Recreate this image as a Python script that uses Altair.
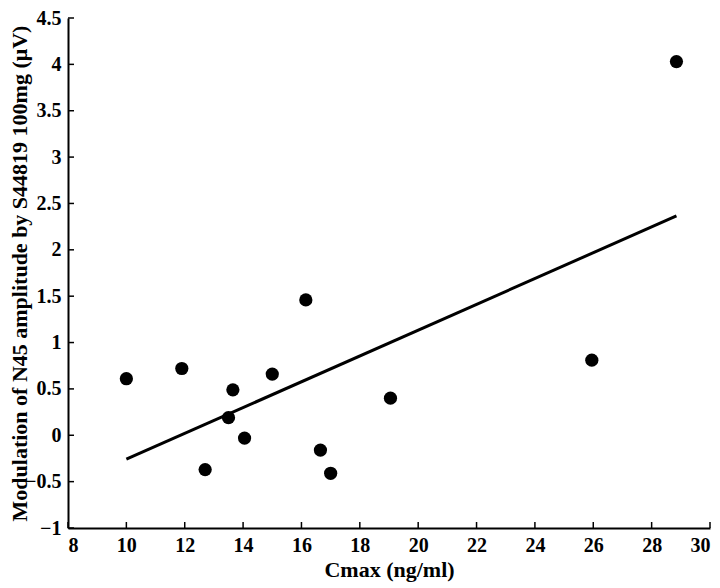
import altair as alt
import pandas as pd

cmax = [10.0, 11.9, 12.7, 13.5, 13.65, 14.05, 15.0, 16.15, 16.65, 17.0, 19.05, 25.95, 28.85]
modulation = [0.61, 0.72, -0.37, 0.19, 0.49, -0.03, 0.66, 1.46, -0.16, -0.41, 0.40, 0.81, 4.03]
x_ticks = list(range(8, 31, 2))
y_ticks = [-1, -0.5, 0, 0.5, 1, 1.5, 2, 2.5, 3, 3.5, 4, 4.5]

df = pd.DataFrame({"cmax": cmax, "mod": modulation})
xt = pd.DataFrame({"cmax": x_ticks})
yt = pd.DataFrame({"mod": y_ticks})

FONT = "Liberation Serif"
W, H = 642, 510

xs = alt.Scale(domain=[8, 30], nice=False, zero=False)
ys = alt.Scale(domain=[-1, 4.5], nice=False, zero=False)

x = alt.X("cmax:Q", title="Cmax (ng/ml)", scale=xs,
          axis=alt.Axis(values=x_ticks, grid=False, ticks=False, tickSize=0,
                        labelFont=FONT, titleFont=FONT,
                        labelFontWeight=700, titleFontWeight=700,
                        labelPadding=7, titlePadding=4))
y = alt.Y("mod:Q", title="Modulation of N45 amplitude by S44819 100mg (μV)", scale=ys,
          axis=alt.Axis(values=y_ticks, grid=False, format="~g", ticks=False, tickSize=0,
                        labelFont=FONT, titleFont=FONT,
                        labelFontWeight=700, titleFontWeight=700,
                        labelPadding=7, titlePadding=-7))

xtick = alt.Chart(xt).mark_rule(color="black", strokeWidth=1.5).encode(
    x=alt.X("cmax:Q", scale=xs), y=alt.value(H), y2=alt.value(H - 6))
ytick = alt.Chart(yt).mark_rule(color="black", strokeWidth=1.5).encode(
    y=alt.Y("mod:Q", scale=ys), x=alt.value(0), x2=alt.value(6))

pts = alt.Chart(df).mark_circle(size=175, color="black", opacity=1).encode(x=x, y=y)
line = alt.Chart(df).transform_regression("cmax", "mod").mark_line(
    color="black", strokeWidth=3).encode(x=x, y=y)

chart = (line + pts + xtick + ytick).properties(
    width=W, height=H,
    autosize=alt.AutoSizeParams(type="none"),
    padding={"left": 60, "top": 10, "right": 2, "bottom": 60},
).configure_view(stroke=None).configure_axis(
    labelFont=FONT, titleFont=FONT, labelFontWeight=700, titleFontWeight=700,
    labelFontSize=20, titleFontSize=22, labelColor="black", titleColor="black",
    domainColor="black", domainWidth=2,
)

chart.save("out.html", embed_options={"renderer": "svg", "actions": False})
